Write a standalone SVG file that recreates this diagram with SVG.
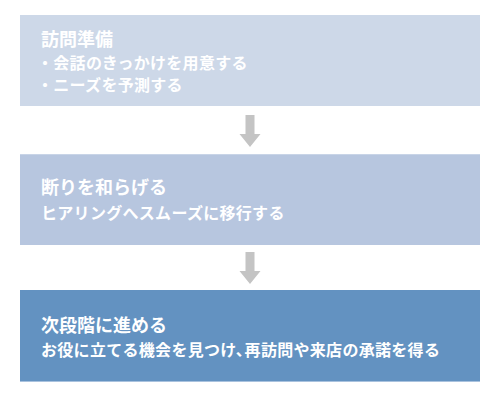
<svg xmlns="http://www.w3.org/2000/svg" width="500" height="400" viewBox="0 0 500 400">
<style>
.t{font-family:"Noto Sans CJK JP","Noto Sans",sans-serif;font-weight:bold;fill:#ffffff}
.h{font-size:18px}
.b{font-size:16px;letter-spacing:0.3px}
.arrow{fill:#c4c4c4}
</style>
<rect width="500" height="400" fill="#ffffff"/>
<g id="connectors">
<path class="arrow" d="M245.5,115 H254.5 V134 H260.5 L250,147 L239.5,134 H245.5 Z"/>
<path class="arrow" d="M245.5,252 H254.5 V271 H260.5 L250,284 L239.5,271 H245.5 Z"/>
</g>
<g id="node1">
<rect x="20" y="15" width="460" height="91" fill="#cdd8e8"/>
<text class="t h" x="41" y="45.5">訪問準備</text>
<text class="t b" x="37" y="69">・会話のきっかけを用意する</text>
<text class="t b" x="37" y="91">・ニーズを予測する</text>
</g>
<g id="node2">
<rect x="20" y="154" width="460" height="91" fill="#b7c6df"/>
<rect x="20" y="154" width="460" height="1" fill="#c8d4e7"/>
<text class="t h" x="41" y="194">断りを和らげる</text>
<text class="t b" x="41" y="219">ヒアリングへスムーズに移行する</text>
</g>
<g id="node3">
<rect x="20" y="290" width="460" height="91" fill="#6392c1"/>
<rect x="20" y="381" width="460" height="1" fill="#a9c2de"/>
<text class="t h" x="41" y="331.5">次段階に進める</text>
<text class="t b" x="41" y="355.5">お役に立てる機会を見つけ、<tspan dx="-7.5">再訪問や来店の承諾を得る</tspan></text>
</g>
</svg>
